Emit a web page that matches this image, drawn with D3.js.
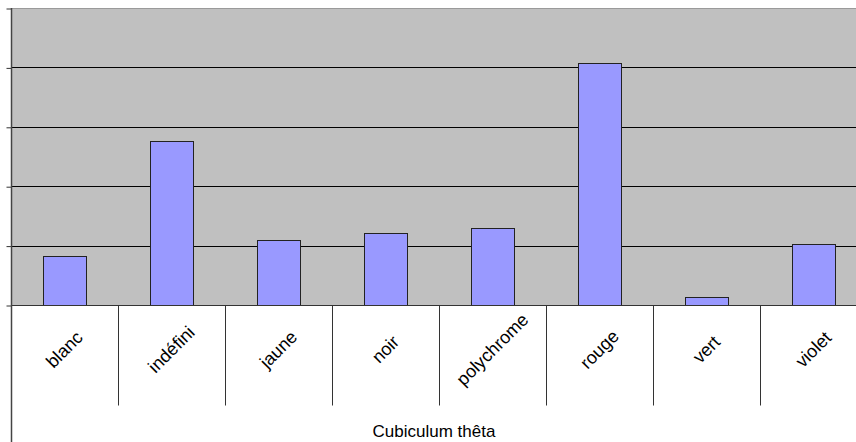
<!DOCTYPE html>
<html>
<head>
<meta charset="utf-8">
<script src="https://cdn.jsdelivr.net/npm/d3@7"></script>
<style>
  body { margin: 0; background: #fff; }
  svg { display: block; font-family: "Liberation Sans", Arial, sans-serif; }
</style>
</head>
<body>
<div id="chart"></div>
<script>
// Data
const categories = ["blanc", "indéfini", "jaune", "noir", "polychrome", "rouge", "vert", "violet"];
const values = [8.2, 27.6, 11.0, 12.1, 12.9, 40.8, 1.3, 10.3];
const yTicks = [0, 10, 20, 30, 40, 50];
const xTitle = "Cubiculum thêta";

const W = 856, H = 442;
// plot area runs past the right edge of the window, like the original
const margin = { top: 8, left: 11 };
const plotW = 856;
const plotH = 297;

const svg = d3.select("#chart")
  .append("svg")
  .attr("width", W)
  .attr("height", H);

const x = d3.scaleBand()
  .domain(categories)
  .range([margin.left, margin.left + plotW])
  .paddingInner(0)
  .paddingOuter(0);

const y = d3.scaleLinear()
  .domain([0, 50])
  .range([margin.top + plotH, margin.top]);

// plot background
svg.append("rect")
  .attr("x", margin.left)
  .attr("y", margin.top)
  .attr("width", plotW)
  .attr("height", plotH)
  .attr("fill", "#c0c0c0");

// top border of plot
svg.append("line")
  .attr("x1", margin.left).attr("x2", W)
  .attr("y1", margin.top + 0.5).attr("y2", margin.top + 0.5)
  .attr("stroke", "#9a9a9a");

// gridlines
svg.append("g")
  .selectAll("line")
  .data(yTicks.filter(d => d > 0 && d < 50))
  .enter()
  .append("line")
    .attr("x1", margin.left)
    .attr("x2", W)
    .attr("y1", d => Math.round(y(d)) + 0.5)
    .attr("y2", d => Math.round(y(d)) + 0.5)
    .attr("stroke", "#000");

// y axis (labels fall outside the window)
svg.append("g")
  .attr("transform", `translate(${margin.left + 0.5},0.5)`)
  .call(d3.axisLeft(y).tickValues(yTicks).tickSize(5).tickFormat(""))
  .call(g => g.select(".domain").remove())
  .call(g => g.selectAll(".tick line").attr("stroke", "#333"));

// bars
const barW = x.bandwidth() * 0.4;
svg.append("g")
  .selectAll("rect")
  .data(values)
  .enter()
  .append("rect")
    .attr("x", (d, i) => Math.round(x(categories[i]) + (x.bandwidth() - barW) / 2) + 0.5)
    .attr("y", d => Math.round(y(d)) + 0.5)
    .attr("width", Math.round(barW))
    .attr("height", d => Math.round(y(0)) - Math.round(y(d)))
    .attr("fill", "#9999ff")
    .attr("stroke", "#222")
    .attr("stroke-width", 1);

// x axis line
const axisY = Math.round(y(0)) + 0.5;
svg.append("line")
  .attr("x1", margin.left).attr("x2", W)
  .attr("y1", axisY).attr("y2", axisY)
  .attr("stroke", "#333");

// left border runs down the whole chart
svg.append("line")
  .attr("x1", margin.left + 0.5).attr("x2", margin.left + 0.5)
  .attr("y1", margin.top).attr("y2", H)
  .attr("stroke", "#444")
  .attr("stroke-width", 1.5);

// category separators
svg.append("g")
  .selectAll("line")
  .data(categories.slice(1))
  .enter()
  .append("line")
    .attr("x1", d => Math.round(x(d)) + 0.5)
    .attr("x2", d => Math.round(x(d)) + 0.5)
    .attr("y1", axisY)
    .attr("y2", axisY + 100)
    .attr("stroke", "#333");

// rotated category labels
svg.append("g")
  .selectAll("text")
  .data(categories)
  .enter()
  .append("text")
    .attr("transform", d => `translate(${x(d) + x.bandwidth() / 2},${axisY + 44}) rotate(-45)`)
    .attr("text-anchor", "middle")
    .attr("dominant-baseline", "central")
    .attr("font-size", 18)
    .attr("fill", "#000")
    .text(d => d);

// axis title
svg.append("text")
  .attr("x", 434)
  .attr("y", 437)
  .attr("text-anchor", "middle")
  .attr("font-size", 17)
  .attr("fill", "#000")
  .text(xTitle);
</script>
</body>
</html>
